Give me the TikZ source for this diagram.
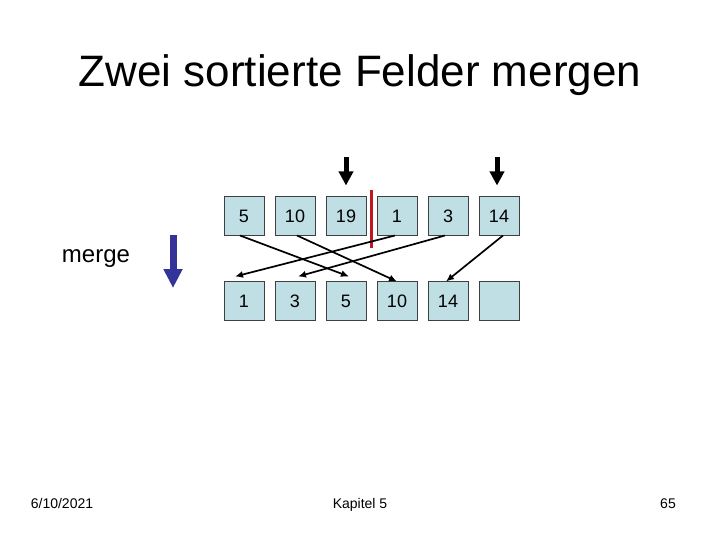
\documentclass[tikz,border=0pt]{standalone}
\usepackage{fontspec}
\setmainfont{Liberation Sans}
\usetikzlibrary{arrows.meta,positioning}
\definecolor{cell}{HTML}{C0DFE4}
\definecolor{celld}{HTML}{404040}
\definecolor{mblue}{HTML}{333399}
\definecolor{mred}{HTML}{C0181E}
\tikzset{
  % one array cell
  cellbox/.style = {rectangle, draw=celld, fill=cell, line width=0.8pt, outer sep=0pt,
                    minimum width=40pt, minimum height=39pt, inner sep=0pt,
                    font=\fontsize{18}{20}\selectfont},
  mv/.style      = {-{Latex[length=8pt,width=7pt]}, line width=1.7pt, black},
  ptr/.style     = {-{Triangle[length=14pt,width=14pt]}, line width=5pt, black},
  foot/.style    = {font=\fontsize{14}{16}\selectfont, anchor=base},
}

\begin{document}
\begin{tikzpicture}[x=1pt,y=-1pt,node distance=11pt]
\useasboundingbox (0,0) rectangle (720,540);
% title
\node[font=\fontsize{44}{50}\selectfont, anchor=base] (title) at (360,87) {Zwei sortierte Felder mergen};
% input array (two sorted runs)
\node[cellbox] (t1) at (244,216) {5};
\node[cellbox, right=of t1] (t2) {10};
\node[cellbox, right=of t2] (t3) {19};
\node[cellbox, right=of t3] (t4) {1};
\node[cellbox, right=of t4] (t5) {3};
\node[cellbox, right=of t5] (t6) {14};
% output array
\node[cellbox, below=46pt of t1] (b1) {1};
\node[cellbox, right=of b1] (b2) {3};
\node[cellbox, right=of b2] (b3) {5};
\node[cellbox, right=of b3] (b4) {10};
\node[cellbox, right=of b4] (b5) {14};
\node[cellbox, right=of b5] (b6) {};
% border between the runs
\draw[mred, line width=3pt] (371,190) -- (371,248);
% current positions
\draw[ptr] ([yshift=39pt]t3.north) -- ([yshift=11pt]t3.north);
\draw[ptr] ([xshift=-2pt,yshift=39pt]t6.north) -- ([xshift=-2pt,yshift=11pt]t6.north);
% moves
\draw[mv] ([xshift=-4pt]t1.south) -- ([xshift=3pt,yshift=5pt]b3.north);
\draw[mv] ([xshift=2pt]t2.south) -- (b4.north);
\draw[mv] ([xshift=-2pt]t4.south) -- ([xshift=-9pt,yshift=5pt]b1.north);
\draw[mv] ([xshift=-3pt]t5.south) -- ([xshift=3pt,yshift=5pt]b2.north);
\draw[mv] ([xshift=4pt]t6.south) -- ([xshift=-2pt]b5.north);
% merge direction
\node[font=\fontsize{24}{28}\selectfont, anchor=base] (lbl) at (96,262) {merge};
\draw[-{Triangle[length=19pt,width=18pt]}, line width=7pt, mblue] (173,235) -- (173,288);
% footer
\node[foot] (date) at (62,508) {6/10/2021};
\node[foot] (chap) at (360,508) {Kapitel 5};
\node[foot] (page) at (668,508) {65};
\end{tikzpicture}
\end{document}
